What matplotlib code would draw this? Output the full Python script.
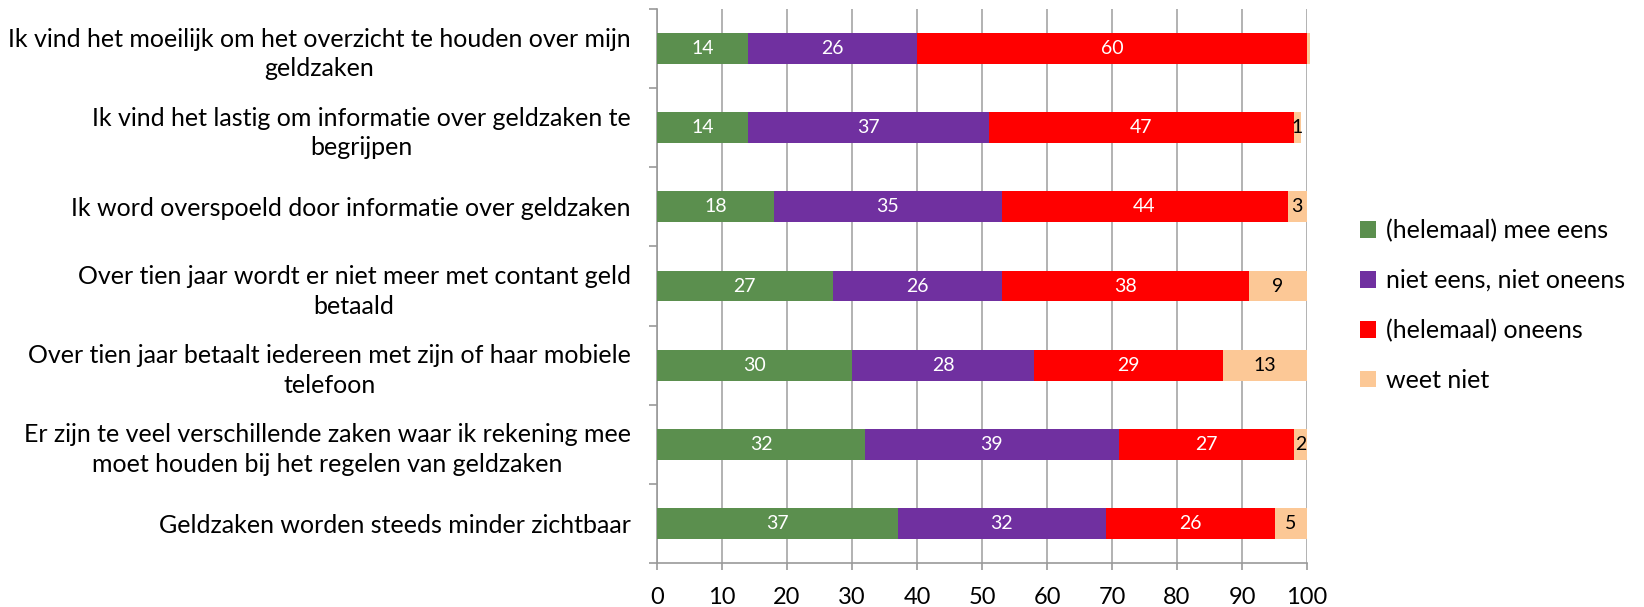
import matplotlib
matplotlib.use("Agg")
import matplotlib.pyplot as plt
from matplotlib.patches import Patch
import numpy as np

categories = [
    "Ik vind het moeilijk om het overzicht te houden over mijn\ngeldzaken",
    "Ik vind het lastig om informatie over geldzaken te\nbegrijpen",
    "Ik word overspoeld door informatie over geldzaken",
    "Over tien jaar wordt er niet meer met contant geld\nbetaald",
    "Over tien jaar betaalt iedereen met zijn of haar mobiele\ntelefoon",
    "Er zijn te veel verschillende zaken waar ik rekening mee\nmoet houden bij het regelen van geldzaken",
    "Geldzaken worden steeds minder zichtbaar",
]
series_names = ["(helemaal) mee eens", "niet eens, niet oneens", "(helemaal) oneens", "weet niet"]
mee_eens = [14, 14, 18, 27, 30, 32, 37]
neutraal = [26, 37, 35, 26, 28, 39, 32]
oneens = [60, 47, 44, 38, 29, 27, 26]
weet_niet = [0.5, 1, 3, 9, 13, 2, 5]
colors = ["#5B8F4E", "#7030A0", "#FF0000", "#FCC896"]
label_colors = ["white", "white", "white", "black"]
xticks = list(range(0, 101, 10))

plt.rcParams['font.family'] = ['Lato', 'DejaVu Sans']

fig = plt.figure(figsize=(16.44, 6.07), dpi=100)
ax = fig.add_axes([657/1644, 1-563/607, 650/1644, 554/607])

y = np.arange(len(categories))
left = np.zeros(len(categories))
series = [mee_eens, neutraal, oneens, weet_niet]
for vals, col, lc in zip(series, colors, label_colors):
    vals = np.array(vals, dtype=float)
    bars = ax.barh(y, vals, left=left, height=0.39, color=col, zorder=3)
    for b in bars:
        b.set_clip_on(False)
    for yi, l, v in zip(y, left, vals):
        if v >= 1:
            ax.text(l + v/2, yi, f"{v:g}", ha="center", va="center", color=lc,
                    fontsize=14, zorder=4)
    left = left + vals

ax.set_xlim(0, 100)
ax.set_ylim(len(categories) - 0.5, -0.5)
ax.set_xticks(xticks)
ax.set_xticklabels([str(t) for t in xticks], fontsize=17)
ax.set_yticks(y)
ax.set_yticklabels(categories, fontsize=18, multialignment="center", linespacing=1.35)
ax.tick_params(axis="y", length=0, pad=19)
ax.set_yticks(np.arange(-0.5, len(categories), 1), minor=True)
ax.tick_params(axis="y", which="minor", length=6, color="#999999", width=1.2)
ax.tick_params(axis="x", length=5, color="#999999", width=1.2, pad=12.5)

ax.grid(axis="x", color="#A6A6A6", linewidth=1.2, zorder=0)
for s in ["top", "right"]:
    ax.spines[s].set_visible(False)
for s in ["left", "bottom"]:
    ax.spines[s].set_color("#999999")
    ax.spines[s].set_linewidth(1.2)

handles = [Patch(facecolor=c, edgecolor="none") for c in colors]
fig.legend(handles, series_names, loc="upper left", bbox_to_anchor=(1360/1644, 1-219/607),
           frameon=False, fontsize=18, handlelength=0.64, handleheight=0.64,
           handletextpad=0.4, labelspacing=1.07, borderpad=0, borderaxespad=0)

fig.savefig("out.png", dpi=100)
